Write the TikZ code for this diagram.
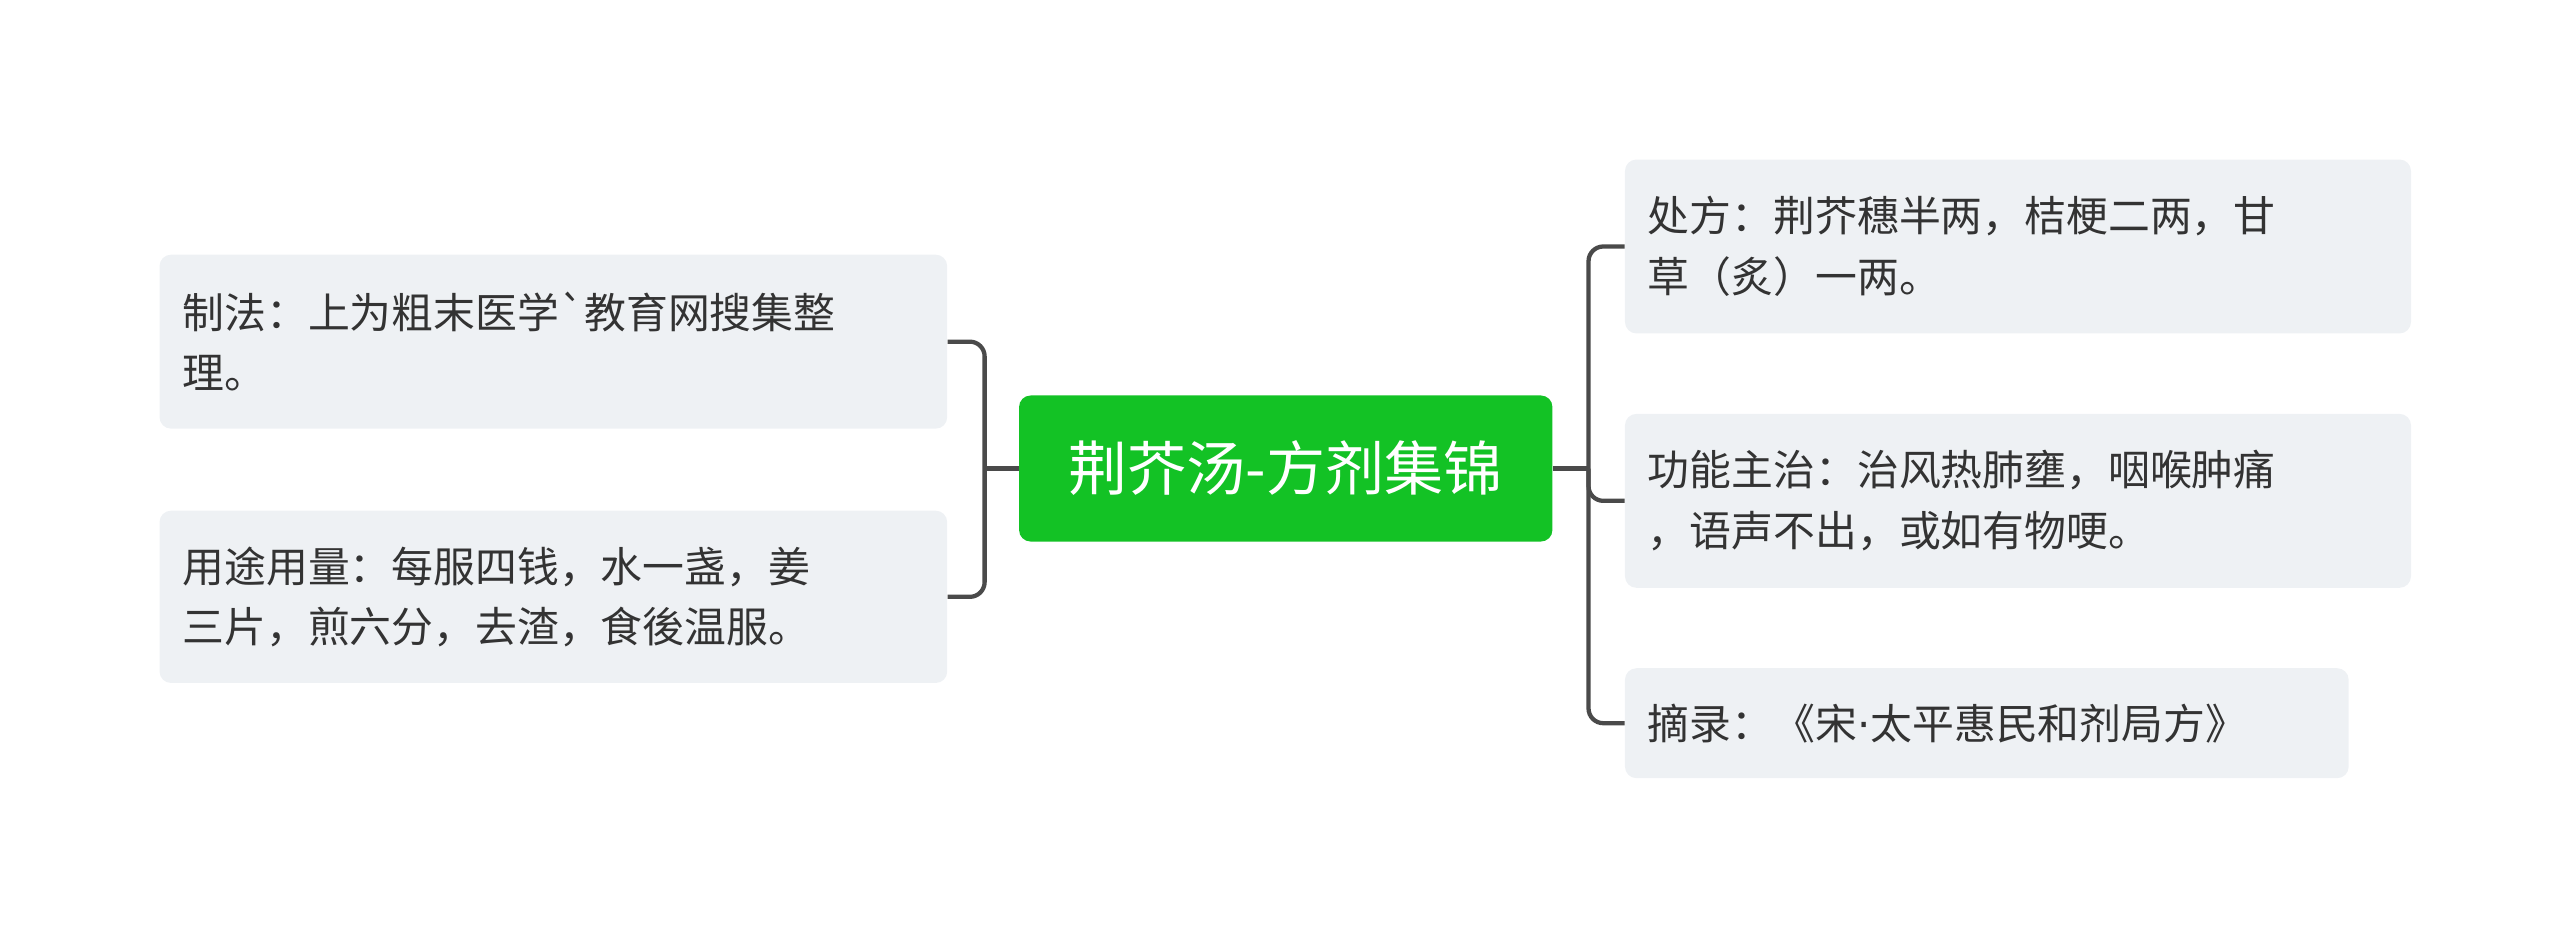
\documentclass[tikz,border=0pt]{standalone}
\usepackage{fontspec}
\newfontfamily\cjk{Noto Sans CJK SC}
\definecolor{boxbg}{HTML}{EEF1F4}
\definecolor{txt}{HTML}{333333}
\definecolor{ln}{HTML}{4A4A4A}
\definecolor{grn}{HTML}{13C225}
\begin{document}
\begin{tikzpicture}[x=1pt,y=-1pt,
  leaf/.style={fill=boxbg,rounded corners=7pt,text=txt,font=\cjk\fontsize{25.5}{37}\selectfont,align=left,inner xsep=14pt,inner ysep=0pt,anchor=north west},
  conn/.style={draw=ln,line width=2.6pt,rounded corners=9pt}]
\useasboundingbox (0,0) rectangle (1560,569);
\node[fill=grn,rounded corners=7pt,text=white,font=\cjk\fontsize{36}{40}\selectfont,minimum width=325pt,minimum height=89pt,inner sep=0pt] (c) at (783.5,285.5) {荆芥汤-方剂集锦};
\node[leaf,text width=452pt,minimum height=106pt] (l1) at (97,155) {制法：上为粗末医学`教育网搜集整\\理。};
\node[leaf,text width=452pt,minimum height=105pt] (l2) at (97,311) {用途用量：每服四钱，水一盏，姜\\三片，煎六分，去渣，食後温服。};
\node[leaf,text width=451pt,minimum height=106pt] (r1) at (990,97) {处方：荆芥穗半两，桔梗二两，甘\\草（炙）一两。};
\node[leaf,text width=451pt,minimum height=106pt] (r2) at (990,252) {功能主治：治风热肺壅，咽喉肿痛\\，语声不出，或如有物哽。};
\node[leaf,text width=413pt,minimum height=67pt] (r3) at (990,407) {摘录：《宋{\fontspec{DejaVu Sans}·}太平惠民和剂局方》};
\coordinate (lj) at (600,285.5);
\coordinate (rj) at (968,285.5);
\draw[conn] (c.west) -- (lj);
\draw[conn] (l1.east) -| (lj) |- (l2.east);
\draw[conn] (c.east) -- (rj);
\draw[conn] (r1.west) -| (rj) |- (r3.west);
\draw[conn] (rj) |- (r2.west);
\end{tikzpicture}
\end{document}
